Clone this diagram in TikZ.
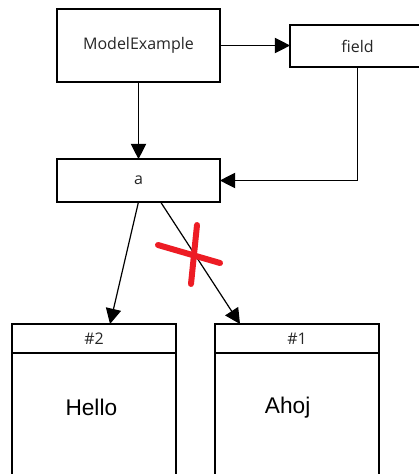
\documentclass[tikz,border=0pt]{standalone}
\usepackage{fontspec}
\setmainfont{Open Sans}
\newfontfamily\arialfont{Liberation Sans}
\usetikzlibrary{arrows.meta,positioning}
\definecolor{penred}{RGB}{237,28,36}
\begin{document}
\begin{tikzpicture} [x=0.75pt,y=-0.75pt,
		box/.style={draw,line width=1.5pt,inner sep=0pt,outer sep=0pt,font=\fontsize{12}{14}\selectfont,text=black!85},
		link/.style={line width=0.9pt,-{Triangle[length=11.5pt,width=11.5pt]}},
		bigtext/.style={font=\arialfont\fontsize{17}{20}\selectfont}]
		\useasboundingbox (0,0) rectangle (418,474);
		% objects
		\node [box,minimum width=122pt,minimum height=55pt] (model) at (138.5,45.5) {ModelExample};
		\node [box,minimum width=101pt,minimum height=31.5pt] (field) at (357.5,46) {field};
		\node [box,minimum width=122pt,minimum height=32pt] (a) at (138.5,180.5) {a};
		% the two strings
		\node [box,minimum width=123pt,minimum height=21.75pt] (h2) at (94,338.5) {\#2};
		\node [box,minimum width=123pt,minimum height=97pt,below=0pt of h2] (b2) {};
		\node [bigtext] (hello) at ([xshift=-2pt,yshift=-41pt]b2.north) {Hello};
		\node [box,minimum width=123pt,minimum height=21.75pt] (h1) at (297,338.5) {\#1};
		\node [box,minimum width=123pt,minimum height=97pt,below=0pt of h1] (b1) {};
		\node [bigtext] (ahoj) at ([xshift=-7pt,yshift=-41pt]b1.north) {Ahoj};
		% references
		\draw [link] (model.east) -- (model.east -| field.west);
		\draw [link] (model.south) -- (a.north);
		\draw [link] (field.south) |- (a.east);
		\draw [link] (a.south) -- ([xshift=12pt]h2.north);
		\draw [link] ([xshift=16.5pt]a.south) -- ([xshift=-42.75pt]h1.north);
		% crossed out
		\draw [penred,line width=4.5pt,line cap=round] (158,245) -- (220,263);
		\draw [penred,line width=4.5pt,line cap=round] (197,225) -- (191,284);
	\end{tikzpicture}
\end{document}
